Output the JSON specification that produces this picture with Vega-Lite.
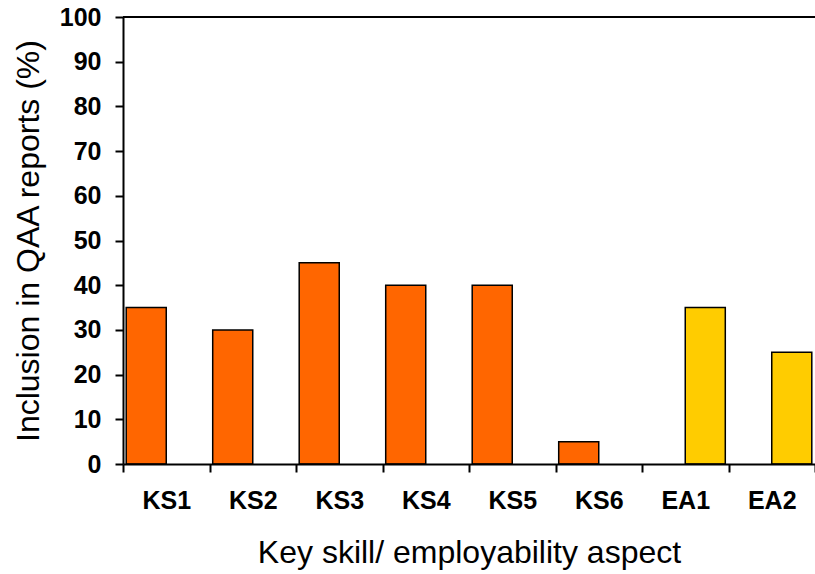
{
  "$schema": "https://vega.github.io/schema/vega-lite/v6.json",
  "autosize": "none",
  "width": 692,
  "height": 447,
  "padding": {"left": 123, "top": 17, "right": 0, "bottom": 110},
  "background": "white",
  "config": {
    "font": "Liberation Sans",
    "view": {"stroke": null}
  },
  "data": {
    "values": [
      {"aspect": "KS1", "group": "Key skill", "value": 35},
      {"aspect": "KS2", "group": "Key skill", "value": 30},
      {"aspect": "KS3", "group": "Key skill", "value": 45},
      {"aspect": "KS4", "group": "Key skill", "value": 40},
      {"aspect": "KS5", "group": "Key skill", "value": 40},
      {"aspect": "KS6", "group": "Key skill", "value": 5},
      {"aspect": "EA1", "group": "Employability aspect", "value": 35},
      {"aspect": "EA2", "group": "Employability aspect", "value": 25}
    ]
  },
  "layer": [
    {
      "mark": {"type": "bar", "stroke": "black", "strokeWidth": 1.5, "width": {"band": 1.0}},
      "encoding": {
        "x": {
          "field": "aspect",
          "type": "nominal",
          "sort": ["KS1", "KS2", "KS3", "KS4", "KS5", "KS6", "EA1", "EA2"],
          "scale": {"paddingInner": 0, "paddingOuter": 0},
          "axis": {
            "title": "Key skill/ employability aspect",
            "titleFont": "Liberation Sans",
            "titleFontSize": 32,
            "titleFontWeight": "normal",
            "titleColor": "black",
            "titlePadding": 24,
            "labelAngle": 0,
            "labelFontSize": 25,
            "labelFontWeight": "bold",
            "labelColor": "black",
            "labelPadding": 16,
            "domainColor": "black",
            "domainWidth": 2,
            "tickColor": "black",
            "tickWidth": 2,
            "tickSize": 8,
            "tickBand": "extent",
            "zindex": 1
          }
        },
        "xOffset": {
          "field": "group",
          "type": "nominal",
          "sort": ["Key skill", "Employability aspect"],
          "scale": {"paddingInner": 0, "paddingOuter": 0.08}
        },
        "y": {
          "field": "value",
          "type": "quantitative",
          "scale": {"domain": [0, 100], "nice": false},
          "axis": {
            "title": "Inclusion in QAA reports (%)",
            "titleFont": "Liberation Sans",
            "titleFontSize": 32,
            "titleFontWeight": "normal",
            "titleColor": "black",
            "titlePadding": 14,
            "values": [0, 10, 20, 30, 40, 50, 60, 70, 80, 90, 100],
            "grid": false,
            "labelFontSize": 25,
            "labelFontWeight": "bold",
            "labelColor": "black",
            "labelPadding": 14,
            "domainColor": "black",
            "domainWidth": 2,
            "tickColor": "black",
            "tickWidth": 2,
            "tickSize": 8,
            "zindex": 1
          }
        },
        "color": {
          "field": "group",
          "type": "nominal",
          "scale": {"domain": ["Key skill", "Employability aspect"], "range": ["#FF6600", "#FFCC00"]},
          "legend": null
        }
      }
    },
    {
      "mark": {"type": "rule", "color": "black", "strokeWidth": 2},
      "encoding": {"y": {"datum": 100, "type": "quantitative"}}
    }
  ]
}
